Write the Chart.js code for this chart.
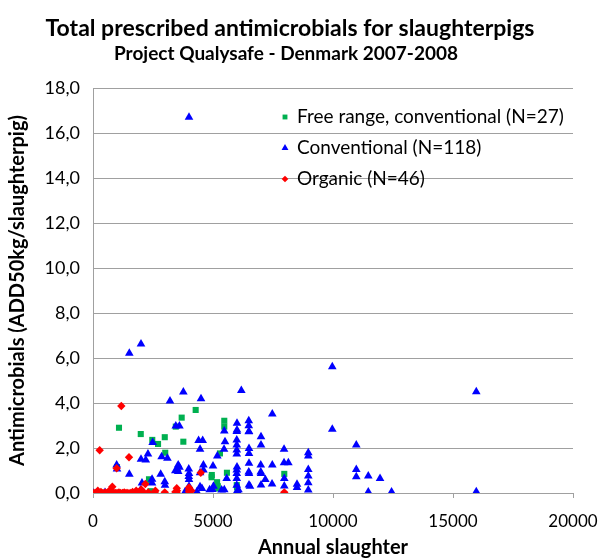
<!DOCTYPE html>
<html>
<head>
<meta charset="utf-8">
<script src="https://cdn.jsdelivr.net/npm/chart.js@4.4.1/dist/chart.umd.min.js"></script>
<style>
  html, body { margin: 0; padding: 0; background: #fff; }
  #wrap { width: 602px; height: 560px; }
</style>
</head>
<body>
<div id="wrap"><canvas id="chartCanvas" width="602" height="560"></canvas></div>
<script>
// Textos del gráfico
const titulo = 'Total prescribed antimicrobials for slaughterpigs';
const subtitulo = 'Project Qualysafe - Denmark 2007-2008';
const tituloX = 'Annual slaughter';
const tituloY = 'Antimicrobials (ADD50kg/slaughterpig)';
const nombresSeries = ['Free range, conventional (N=27)', 'Conventional (N=118)', 'Organic (N=46)'];
const ticksY = [0, 2, 4, 6, 8, 10, 12, 14, 16, 18];
const ticksX = [0, 5000, 10000, 15000, 20000];

// Free range, conventional (verde)
const libreX = [1083, 1990, 2990, 2470, 2710, 3764, 3010, 4278, 3695, 3450, 5470, 5470, 5290, 2333, 1730, 4950, 5580, 5170, 5170, 5990, 7970, 1000, 2375, 2400, 6000, 5200, 4940];
const libreY = [2.90, 2.62, 2.48, 2.36, 2.18, 2.28, 1.79, 3.69, 3.35, 2.95, 3.21, 2.95, 1.76, 0.61, 0.02, 0.80, 0.90, 0.48, 0.20, 0.35, 0.85, 1.15, 0.53, 0.08, 0.25, 0.30, 0.70];

// Conventional (azul)
const convX = [4000, 1513, 2000, 3764, 3208, 4500, 6180, 9970, 15970, 7470,
  3450, 3600, 2486, 4400, 4570, 4460, 2290, 2000, 2200, 2860,
  3100, 986, 1000, 1514, 2820, 3510, 3600, 3990, 4600, 3990,
  2460, 2990, 3430, 5470, 5500, 5460, 5990, 5990, 5990, 5990,
  5990, 6500, 6500, 6500, 6500, 7000, 7000, 5180, 5000, 4600,
  4460, 3550, 3550, 4000, 4000, 4000, 5570, 5470, 5990, 5990,
  5990, 5990, 5990, 6500, 6500, 7000, 7000, 4970, 5360, 4330,
  4460, 3830, 6000, 6000, 6490, 6490, 6490, 7960, 8970, 8970,
  7470, 7960, 8140, 8970, 8970, 7970, 6990, 6990, 6490, 6000,
  9970, 10970, 10970, 10970, 11470, 11960, 11470, 12440, 15970, 8970,
  8970, 7970, 8500, 8500, 7180, 7460, 0, 500, 1980, 2040,
  2460, 3000, 4540, 4860, 5020, 6060, 6060, 6540];
const convY = [16.70, 6.21, 6.62, 4.49, 4.09, 4.19, 4.56, 5.61, 4.50, 3.51,
  2.98, 2.98, 2.24, 2.33, 2.33, 1.94, 1.73, 1.50, 1.47, 1.61,
  1.54, 1.24, 1.07, 0.83, 0.83, 1.07, 1.14, 1.07, 1.24, 0.73,
  0.61, 0.50, 0.99, 2.76, 2.28, 1.94, 2.73, 2.36, 2.13, 1.91,
  1.73, 2.73, 1.98, 1.76, 1.32, 2.50, 2.13, 1.64, 1.20, 1.02,
  0.90, 1.24, 0.96, 0.87, 0.60, 0.30, 0.64, 0.15, 1.02, 0.87,
  0.64, 0.35, 0.06, 0.87, 0.36, 0.87, 0.36, 0.16, 0.13, 0.06,
  0.28, 0.04, 3.10, 2.80, 3.21, 2.99, 2.72, 1.94, 1.79, 1.64,
  1.24, 1.35, 1.35, 1.05, 0.76, 0.65, 1.24, 0.93, 0.93, 1.16,
  2.83, 2.13, 1.05, 0.72, 0.76, 0.65, 0.05, 0.05, 0.06, 0.46,
  0.13, 0.31, 0.39, 0.25, 0.60, 0.40, 0.00, 0.02, 0.13, 0.44,
  0.44, 0.35, 0.20, 0.15, 0.30, 0.15, 0.02, 0.30];

// Organic (rojo)
const orgX = [278, 1180, 1500, 986, 4490, 805, 2180, 2010, 3490, 3490,
  4000, 4000, 2570, 2990, 3430, 7970, 4000, 0, 80, 150,
  250, 330, 420, 520, 600, 680, 760, 850, 930, 1000,
  1080, 1150, 1230, 1300, 1380, 1450, 1550, 1650, 1950, 2100,
  2300, 2600, 3500, 4100, 1800, 200];
const orgY = [1.90, 3.87, 1.59, 1.10, 0.90, 0.28, 0.40, 0.16, 0.21, 0.00,
  0.25, 0.06, 0.03, 0.03, 0.05, 0.03, 0.15, 0.00, 0.00, 0.00,
  0.00, 0.05, 0.00, 0.02, 0.00, 0.10, 0.00, 0.03, 0.00, 0.00,
  0.02, 0.00, 0.00, 0.03, 0.00, 0.00, 0.00, 0.05, 0.00, 0.05,
  0.03, 0.10, 0.10, 0.10, 0.10, 0.10];

const coloresSeries = ['#00b050', '#0000ff', '#ff0000'];
const estilosSeries = ['rect', 'triangle', 'rectRot'];
const radiosSeries = [4.3, 5, 4.2];

const fuente = 'Lato, "Open Sans", sans-serif';

function aPuntos(xs, ys) {
  return xs.map((x, i) => ({ x: x, y: ys[i] }));
}

const seriesDatos = [aPuntos(libreX, libreY), aPuntos(convX, convY), aPuntos(orgX, orgY)];

// Títulos y leyenda dibujados a mano
const pluginTextos = {
  id: 'textos',
  afterDraw(chart) {
    const ctx = chart.ctx;
    ctx.save();
    ctx.fillStyle = '#000';
    ctx.textAlign = 'center';
    ctx.textBaseline = 'middle';
    ctx.font = 'bold 23px ' + fuente;
    ctx.fillText(titulo, 290, 29);
    ctx.font = 'bold 19px ' + fuente;
    ctx.fillText(subtitulo, 286, 54);

    // leyenda
    ctx.textAlign = 'left';
    ctx.font = '19px ' + fuente;
    const filas = [117, 148, 179];
    nombresSeries.forEach((nombre, i) => {
      ctx.fillStyle = coloresSeries[i];
      ctx.strokeStyle = coloresSeries[i];
      Chart.helpers.drawPoint(ctx, {
        pointStyle: estilosSeries[i], radius: radiosSeries[i] * 0.8, rotation: 0, borderWidth: 0
      }, 285, filas[i]);
      ctx.fillStyle = '#000';
      ctx.fillText(nombre, 297, filas[i]);
    });
    ctx.restore();
  }
};

const ctx = document.getElementById('chartCanvas').getContext('2d');
new Chart(ctx, {
  type: 'scatter',
  data: {
    datasets: seriesDatos.map((datos, i) => ({
      label: nombresSeries[i],
      data: datos,
      pointStyle: estilosSeries[i],
      pointRadius: radiosSeries[i],
      pointHoverRadius: radiosSeries[i],
      backgroundColor: coloresSeries[i],
      borderColor: coloresSeries[i],
      borderWidth: 0,
      order: 3 - i
    }))
  },
  options: {
    responsive: false,
    animation: false,
    devicePixelRatio: 1,
    layout: { padding: { top: 88, right: 29, left: 0, bottom: 0 } },
    plugins: {
      legend: { display: false },
      title: { display: false },
      tooltip: { enabled: false }
    },
    scales: {
      x: {
        type: 'linear',
        min: 0,
        max: 20000,
        afterFit: (s) => { s.height = 67; s.paddingLeft = 0; s.paddingRight = 0; },
        afterBuildTicks: (s) => { s.ticks = ticksX.map(v => ({ value: v })); },
        ticks: {
          color: '#000',
          font: { family: fuente, size: 17 },
          padding: 13,
          maxRotation: 0,
          callback: (v) => String(v)
        },
        grid: { drawOnChartArea: false, drawTicks: true, tickLength: 5, color: '#a0a0a0' },
        border: { color: '#a0a0a0', width: 1 },
        title: {
          display: true,
          text: tituloX,
          color: '#000',
          font: { family: fuente, size: 20, weight: 'bold' },
          padding: { top: 0, bottom: 0 }
        }
      },
      y: {
        type: 'linear',
        min: 0,
        max: 18,
        afterFit: (s) => { s.width = 93; s.paddingTop = 0; s.paddingBottom = 0; },
        afterBuildTicks: (s) => { s.ticks = ticksY.map(v => ({ value: v })); },
        ticks: {
          color: '#000',
          font: { family: fuente, size: 18 },
          padding: 13,
          callback: (v) => v.toFixed(1).replace('.', ',')
        },
        grid: { color: '#a0a0a0', drawTicks: false },
        border: { color: '#a0a0a0', width: 1 },
        title: {
          display: true,
          text: tituloY,
          color: '#000',
          font: { family: fuente, size: 20, weight: 'bold' },
          padding: { top: 6, bottom: 0 }
        }
      }
    }
  },
  plugins: [pluginTextos]
});
</script>
</body>
</html>
